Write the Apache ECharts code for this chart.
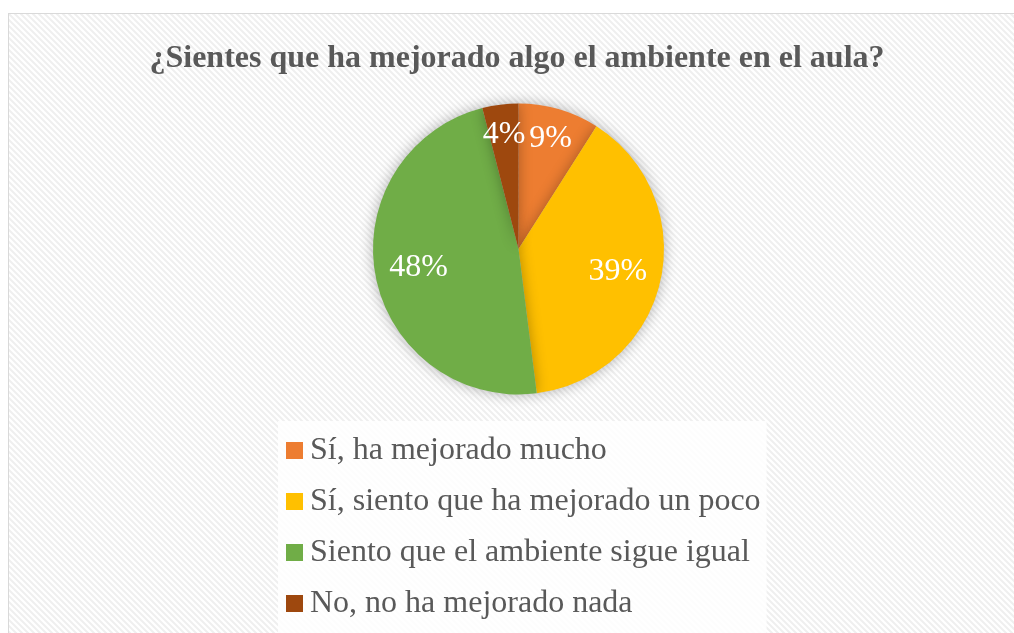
<!DOCTYPE html>
<html>
<head>
<meta charset="utf-8">
<script src="https://cdn.jsdelivr.net/npm/echarts@6/dist/echarts.min.js"></script>
<style>
  html, body { margin: 0; padding: 0; background: #ffffff; overflow: hidden; }
  #frame {
    position: absolute; left: 8px; top: 13px;
    width: 1020px; height: 640px;
    border: 1px solid #d9d9d9;
  }
  #chart { width: 1020px; height: 640px; }
</style>
</head>
<body>
<div id="frame"><div id="chart"></div></div>
<script>
// datos de la encuesta
const titleText = '¿Sientes que ha mejorado algo el ambiente en el aula?';
const categories = [
  'Sí, ha mejorado mucho',
  'Sí, siento que ha mejorado un poco',
  'Siento que el ambiente sigue igual',
  'No, no ha mejorado nada'
];
const values = [9, 39, 48, 4];
const colors = ['#ED7D31', '#FFC000', '#70AD47', '#9E480E'];

// fondo rayado diagonal
function stripePattern() {
  const n = 6;
  const c = document.createElement('canvas');
  c.width = n; c.height = n;
  const ctx = c.getContext('2d');
  ctx.fillStyle = '#ffffff';
  ctx.fillRect(0, 0, n, n);
  ctx.strokeStyle = '#efefef';
  ctx.lineWidth = 2;
  ctx.beginPath();
  ctx.moveTo(-1, -1); ctx.lineTo(n + 1, n + 1);
  ctx.moveTo(-1, n - 1); ctx.lineTo(1, n + 1);
  ctx.moveTo(n - 1, -1); ctx.lineTo(n + 1, 1);
  ctx.stroke();
  return c;
}

const cx = 509.5, cy = 235, R = 145.5;
const total = values.reduce((a, b) => a + b, 0);

// posición de las etiquetas (similar a Excel)
function labelPos(i) {
  let before = 0;
  for (let k = 0; k < i; k++) before += values[k];
  const mid = (before + values[i] / 2) / total * Math.PI * 2;
  const f = values[i] < 10 ? 0.79 : 0.7;
  return { x: cx + Math.sin(mid) * R * f, y: cy - Math.cos(mid) * R * f };
}

const chart = echarts.init(document.getElementById('chart'), null, { renderer: 'canvas' });

chart.setOption({
  backgroundColor: { image: stripePattern(), repeat: 'repeat' },
  animation: false,
  title: {
    text: titleText,
    left: 503,
    textAlign: 'center',
    top: 24,
    textStyle: {
      fontFamily: 'Liberation Serif',
      fontWeight: 'bold',
      fontSize: 32,
      color: '#595959'
    }
  },
  legend: {
    orient: 'vertical',
    left: 269,
    top: 407,
    padding: [12, 6, 20, 8],
    backgroundColor: 'rgba(255,255,255,0.85)',
    itemWidth: 17,
    itemHeight: 17,
    itemGap: 16,
    icon: 'rect',
    data: categories,
    textStyle: {
      fontFamily: 'Liberation Serif',
      fontSize: 32,
      lineHeight: 35,
      color: '#595959',
      padding: [0, 0, 0, 2]
    }
  },
  series: [{
    type: 'pie',
    center: [cx, cy],
    radius: [0, R],
    startAngle: 90,
    clockwise: true,
    color: colors,
    itemStyle: {
      borderWidth: 0,
      shadowBlur: 14,
      shadowColor: 'rgba(0,0,0,0.3)'
    },
    label: {
      show: true,
      position: 'inside',
      formatter: '{d}%',
      fontFamily: 'Liberation Serif',
      fontSize: 32,
      color: '#ffffff'
    },
    labelLayout: function (params) {
      return labelPos(params.dataIndex);
    },
    labelLine: { show: false },
    emphasis: { disabled: true },
    data: categories.map((name, i) => ({ name: name, value: values[i] }))
  }]
});
</script>
</body>
</html>
